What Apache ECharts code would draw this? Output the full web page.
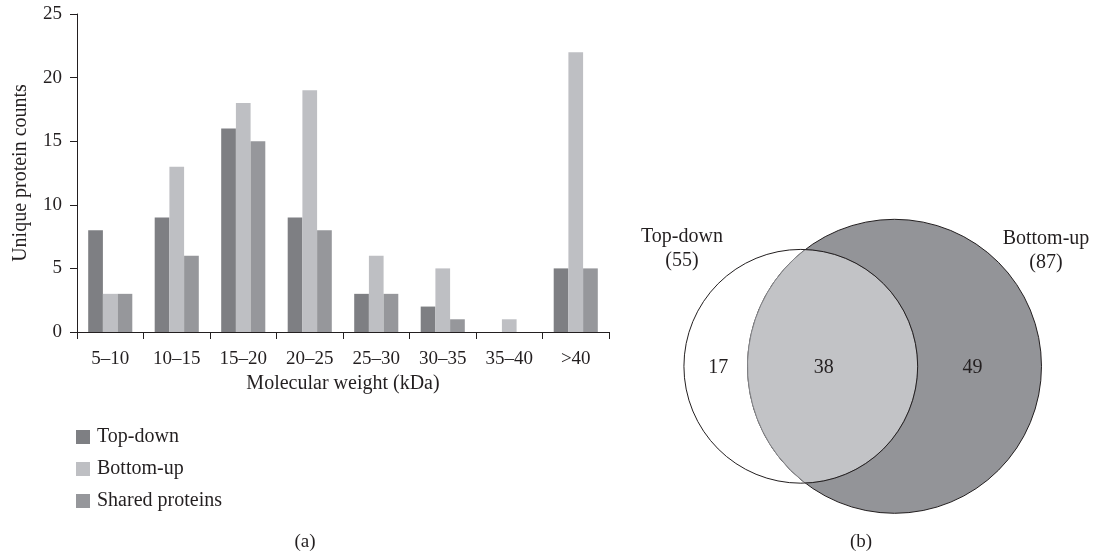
<!DOCTYPE html>
<html>
<head>
<meta charset="utf-8">
<script src="https://cdn.jsdelivr.net/npm/echarts@6/dist/echarts.min.js"></script>
<style>
html,body{margin:0;padding:0;background:#fff;}
#chart{width:1097px;height:554px;}
</style>
</head>
<body>
<div id="chart"></div>
<script>
// ---- data ----
const categories = ['5\u201310', '10\u201315', '15\u201320', '20\u201325', '25\u201330', '30\u201335', '35\u201340', '>40'];
const topDown = [8, 9, 16, 9, 3, 2, 0, 5];
const bottomUp = [3, 13, 18, 19, 6, 5, 1, 22];
const sharedProteins = [3, 6, 15, 8, 3, 1, 0, 5];
const yTicks = [0, 5, 10, 15, 20, 25];
const seriesNames = ['Top-down', 'Bottom-up', 'Shared proteins'];

const vennSetNames = ['Top-down', 'Bottom-up'];
const vennTotals = [55, 87];
const vennOnly = [17, 49];
const vennShared = 38;

// ---- styles / layout ----
const FONT = 'Liberation Serif';
const TXT = '#231f20';
const colors = ['#7e7f83', '#bebfc3', '#96979b'];

const vennLayout = {
  cy: 366.3,
  leftCx: 800.8,
  rightCx: 894.5,
  scale: 15.76, // px per sqrt(count)
  leftOnlyDx: -82.5,   // label offset from left centre
  sharedDx: 23,        // label offset from left centre
  rightOnlyDx: 78      // label offset from right centre
};

const chart = echarts.init(document.getElementById('chart'), null, {renderer: 'canvas'});

function renderVenn(params, api) {
  const L = vennLayout;
  const t1 = api.value(0), t2 = api.value(1);
  const r1d = L.scale * Math.sqrt(t1);
  const r2d = L.scale * Math.sqrt(t2);
  const c1 = api.coord([L.leftCx, L.cy]);
  const c2 = api.coord([L.rightCx, L.cy]);
  const r1 = api.size([r1d, 0])[0];
  const r2 = api.size([r2d, 0])[0];
  const d = c2[0] - c1[0];
  const a = (r1 * r1 - r2 * r2 + d * d) / (2 * d);
  const h = Math.sqrt(r1 * r1 - a * a);
  const px = c1[0] + a;
  const cy = c1[1];
  const lens = 'M ' + px + ' ' + (cy - h) +
    ' A ' + r2 + ' ' + r2 + ' 0 0 0 ' + px + ' ' + (cy + h) +
    ' A ' + r1 + ' ' + r1 + ' 0 0 0 ' + px + ' ' + (cy - h) + ' Z';
  const txt = (s, x, y, size) => ({
    type: 'text',
    x: x, y: y,
    style: {text: s, fill: TXT, font: size + 'px "' + FONT + '"', align: 'center', verticalAlign: 'middle', lineHeight: 24}
  });
  return {
    type: 'group',
    children: [
      {type: 'circle', shape: {cx: c1[0], cy: cy, r: r1}, style: {fill: '#ffffff', stroke: null}},
      {type: 'circle', shape: {cx: c2[0], cy: cy, r: r2}, style: {fill: '#939498', stroke: '#231f20', lineWidth: 1}},
      {type: 'path', shape: {pathData: lens}, style: {fill: '#c2c3c6', stroke: '#85868a', lineWidth: 1}},
      {type: 'circle', shape: {cx: c1[0], cy: cy, r: r1}, style: {fill: null, stroke: '#231f20', lineWidth: 1}},
      txt(String(vennOnly[0]), c1[0] + L.leftOnlyDx, cy + 1.5, 20),
      txt(String(api.value(2)), c1[0] + L.sharedDx, cy + 1.5, 20),
      txt(String(vennOnly[1]), c2[0] + L.rightOnlyDx, cy + 1.5, 20),
      txt(vennSetNames[0] + '\n(' + t1 + ')', api.coord([682, 0])[0], api.coord([0, 249])[1], 20),
      txt(vennSetNames[1] + '\n(' + t2 + ')', api.coord([1046, 0])[0], api.coord([0, 251])[1], 20)
    ]
  };
}

const option = {
  backgroundColor: '#ffffff',
  animation: false,
  textStyle: {fontFamily: FONT, color: TXT},
  grid: [
    {left: 77, right: 488, top: 14, bottom: 222, containLabel: false},
    {left: 560, right: 0, top: 0, bottom: 0, containLabel: false}
  ],
  legend: {
    orient: 'vertical',
    left: 76,
    top: 427,
    padding: 0,
    itemWidth: 14,
    itemHeight: 14,
    itemGap: 12,
    icon: 'rect',
    data: seriesNames,
    textStyle: {fontFamily: FONT, fontSize: 20, color: TXT, padding: [0, 0, 0, 2]}
  },
  xAxis: [
    {
      type: 'category',
      gridIndex: 0,
      data: categories,
      name: 'Molecular weight (kDa)',
      nameLocation: 'middle',
      nameGap: 30,
      nameTextStyle: {fontFamily: FONT, fontSize: 20, color: TXT},
      axisLine: {lineStyle: {color: TXT, width: 1}},
      axisTick: {show: true, length: 7, alignWithLabel: false, lineStyle: {color: TXT}},
      axisLabel: {fontFamily: FONT, fontSize: 19, color: TXT, margin: 18, interval: 0},
      splitLine: {show: false}
    },
    {type: 'value', gridIndex: 1, min: 560, max: 1097, show: false}
  ],
  yAxis: [
    {
      type: 'value',
      gridIndex: 0,
      min: yTicks[0],
      max: yTicks[yTicks.length - 1],
      interval: yTicks[1] - yTicks[0],
      name: 'Unique protein counts',
      nameLocation: 'middle',
      nameGap: 46,
      nameTextStyle: {fontFamily: FONT, fontSize: 20, color: TXT},
      axisLine: {show: true, lineStyle: {color: TXT, width: 1}},
      axisTick: {show: true, length: 7, lineStyle: {color: TXT}},
      axisLabel: {fontFamily: FONT, fontSize: 19, color: TXT, margin: 15},
      splitLine: {show: false}
    },
    {type: 'value', gridIndex: 1, min: 0, max: 554, inverse: true, show: false}
  ],
  series: [
    {name: seriesNames[0], type: 'bar', data: topDown, barWidth: 14.7, barGap: '0%', itemStyle: {color: colors[0]}, xAxisIndex: 0, yAxisIndex: 0},
    {name: seriesNames[1], type: 'bar', data: bottomUp, barWidth: 14.7, barGap: '0%', itemStyle: {color: colors[1]}, xAxisIndex: 0, yAxisIndex: 0},
    {name: seriesNames[2], type: 'bar', data: sharedProteins, barWidth: 14.7, barGap: '0%', itemStyle: {color: colors[2]}, xAxisIndex: 0, yAxisIndex: 0},
    {
      type: 'custom',
      name: 'venn',
      coordinateSystem: 'cartesian2d',
      xAxisIndex: 1,
      yAxisIndex: 1,
      silent: true,
      renderItem: renderVenn,
      encode: {x: 0, y: 1},
      clip: false,
      data: [[vennTotals[0], vennTotals[1], vennShared]]
    }
  ],
  graphic: [
    {type: 'text', x: 305, y: 542, style: {text: '(a)', fill: TXT, font: '19px "' + FONT + '"', align: 'center', verticalAlign: 'middle'}},
    {type: 'text', x: 861, y: 542, style: {text: '(b)', fill: TXT, font: '19px "' + FONT + '"', align: 'center', verticalAlign: 'middle'}}
  ]
};

chart.setOption(option);
</script>
</body>
</html>
